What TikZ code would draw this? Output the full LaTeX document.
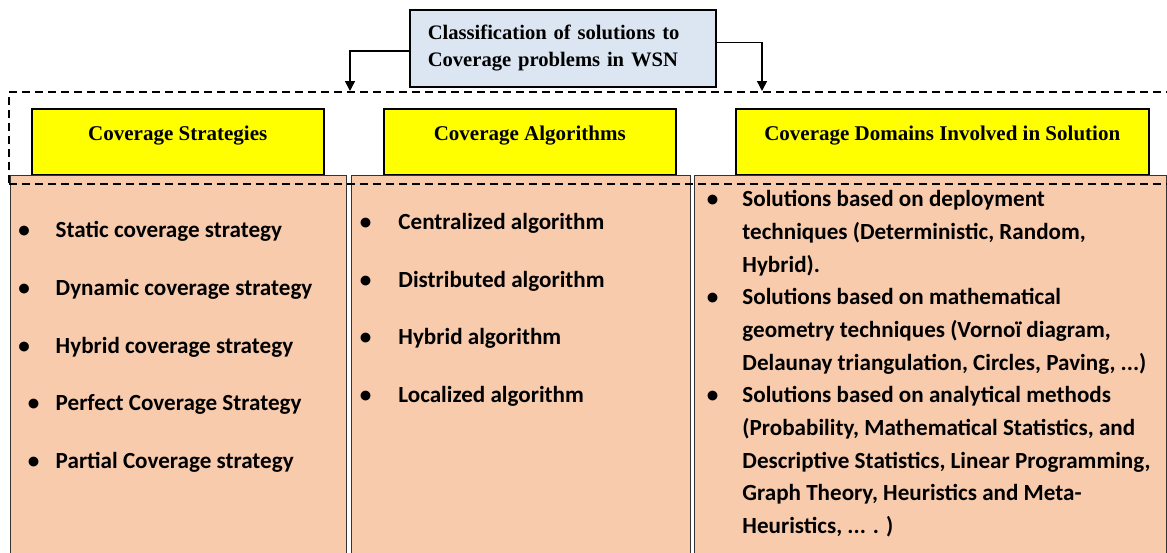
\documentclass[tikz,border=0pt]{standalone}
\usepackage{fontspec}
\setmainfont{Liberation Serif}
\newfontfamily\itemfont{Carlito}
\usetikzlibrary{positioning}
\usetikzlibrary{arrows.meta}
\definecolor{titleblue}{RGB}{220,230,242}
\definecolor{peach}{RGB}{248,203,173}
\definecolor{headyellow}{RGB}{255,255,0}

\begin{document}
\begin{tikzpicture}[x=1pt,y=-1pt,node distance=34.25pt,line width=1.5pt,
  >={Triangle[length=10pt,width=10pt]},
  head/.style={draw,fill=headyellow,anchor=north west,minimum height=66pt,
    text height=14pt,text depth=17.4pt,font=\fontsize{21}{24}\selectfont\bfseries},
  column/.style={draw=black!80,line width=1.2pt,fill=peach,anchor=north west,minimum height=420pt},
  item/.style={inner sep=0pt,text height=16pt,text depth=6pt,
    font=\itemfont\fontsize{23.1}{32.7}\selectfont\bfseries},
  multiitem/.style={inner sep=0pt,anchor=base west,align=left,
    font=\itemfont\fontsize{23.1}{32.7}\selectfont\bfseries}]
  \useasboundingbox (0,0) rectangle (1167,552);
  % top box and the three headers
  \node[draw,fill=titleblue,anchor=north west,minimum height=77pt,text width=270pt,
    inner xsep=18pt,align=left,font=\fontsize{20.6}{27}\selectfont\bfseries] (title) at (409,9)
    {Classification of solutions to\\Coverage problems in WSN};
  \node[head,minimum width=292pt] (strat) at (31,108) {Coverage Strategies};
  \node[head,minimum width=292pt] (algo) at (383,108) {Coverage Algorithms};
  \node[head,minimum width=413pt] (domain) at (735,108) {Coverage Domains Involved in Solution};
  % columns
  \node[column,minimum width=336.5pt] (colA) at (9.5,175) {};
  \node[column,minimum width=339pt] (colB) at (351,175) {};
  \node[column,minimum width=472pt] (colC) at (694,175) {};
  \node[draw,dash pattern=on 8pt off 5pt,anchor=north west,minimum width=1180pt,
    minimum height=92pt,inner sep=0pt] (frame) at (8.4,91) {};
  \coordinate (arrL) at (350,0);
  \coordinate (arrR) at (762,0);
  \draw[->] ([yshift=-2.5pt]title.west) -| (arrL |- frame.north);
  \draw[->] ([yshift=5.8pt]title.east) -| (arrR |- frame.north);
  % strategies
  \node[item,anchor=base west] (s1) at (55,237.7) {\llap{\makebox[37.3pt][l]{\textbullet}}Static coverage strategy};
  \node[item,below=of s1.south west,anchor=north west] (s2) {\llap{\makebox[37.3pt][l]{\textbullet}}Dynamic coverage strategy};
  \node[item,below=of s2.south west,anchor=north west] (s3) {\llap{\makebox[37.3pt][l]{\textbullet}}Hybrid coverage strategy};
  \node[item,below=of s3.south west,anchor=north west] (s4) {\llap{\makebox[28pt][l]{\textbullet}}Perfect Coverage Strategy};
  \node[item,below=of s4.south west,anchor=north west] (s5) {\llap{\makebox[28pt][l]{\textbullet}}Partial Coverage strategy};
  % algorithms
  \node[item,anchor=base west] (a1) at (397.7,229.3) {\llap{\makebox[38.7pt][l]{\textbullet}}Centralized algorithm};
  \node[item,below=of a1.south west,anchor=north west] (a2) {\llap{\makebox[38.7pt][l]{\textbullet}}Distributed algorithm};
  \node[item,below=of a2.south west,anchor=north west] (a3) {\llap{\makebox[38.7pt][l]{\textbullet}}Hybrid algorithm};
  \node[item,below=of a3.south west,anchor=north west] (a4) {\llap{\makebox[38.7pt][l]{\textbullet}}Localized algorithm};
  % domains (base = last line)
  \node[multiitem] (d1) at (741.7,272.1) {\llap{\makebox[35.7pt][l]{\textbullet}}Solutions based on deployment\\
    techniques (Deterministic, Random,\\Hybrid).};
  \node[multiitem] (d2) at (741.7,370.1) {\llap{\makebox[35.7pt][l]{\textbullet}}Solutions based on mathematical\\
    geometry techniques (Vornoï diagram,\\Delaunay triangulation, Circles, Paving, ...)};
  \node[multiitem] (d3) at (741.7,533.5) {\llap{\makebox[35.7pt][l]{\textbullet}}Solutions based on analytical methods\\
    (Probability, Mathematical Statistics, and\\Descriptive Statistics, Linear Programming,\\
    Graph Theory, Heuristics and Meta-\\Heuristics, ... . )};
\end{tikzpicture}
\end{document}
